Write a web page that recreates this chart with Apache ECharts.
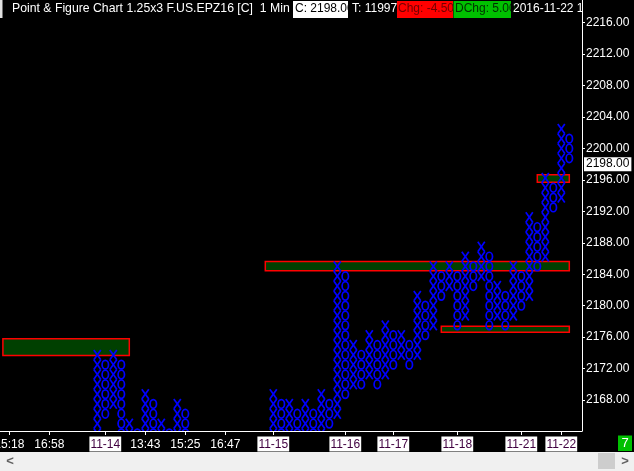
<!DOCTYPE html>
<html><head><meta charset="utf-8">
<script src="https://cdn.jsdelivr.net/npm/echarts@6/dist/echarts.min.js"></script>
<style>html,body{margin:0;padding:0;background:#000;}#c{width:634px;height:471px;}</style>
</head><body><div id="c"></div>
<script>
// ---- Point & Figure data (box size 1.25, reversal 3) ----
const boxSize = 1.25;
const colIndex = [12,13,14,15,16,17,18,19,20,21,22,23,
  34,35,36,37,38,39,40,41,42,43,44,45,46,47,48,49,50,51,52,53,54,55,56,57,58,59,60,61,62,63,64,65,66,67,68,69,70,71];
const colKind = ['X','O','X','O','X','O','X','O','X','O','X','O',
  'X','O','X','O','X','O','X','O','X','O','X','O','X','O','X','O','X','O','X','O','X','O','X','O','X','O','X','O','X','O','X','O','X','O','X','O','X','O'];
const colLow = [2161.25,2166.25,2167.5,2161.25,2162.5,2160,2161.25,2161.25,2162.5,2160,2161.25,2161.25,
  2161.25,2161.25,2162.5,2161.25,2162.5,2161.25,2162.5,2165,2166.25,2168.75,2170,2170,2171.25,2170,2171.25,2172.5,2173.75,2172.5,
  2173.75,2176.25,2177.5,2181.25,2182.5,2177.5,2178.75,2182.5,2183.75,2177.5,2178.75,2177.5,2178.75,2180,2181.25,2185,2186.25,2192.5,2193.75,2198.75];
const colHigh = [2173.75,2172.5,2173.75,2172.5,2165,2163.75,2168.75,2167.5,2165,2163.75,2167.5,2166.25,
  2168.75,2167.5,2167.5,2166.25,2167.5,2166.25,2168.75,2167.5,2185,2183.75,2175,2173.75,2176.25,2175,2177.5,2176.25,2176.25,2175,
  2181.25,2180,2185,2183.75,2185,2183.75,2186.25,2185,2187.5,2186.25,2182.5,2181.25,2185,2183.75,2191.25,2190,2196.25,2195,2202.5,2201.25];

// ---- Zones ----
const zoneStart = [0.2, 33, 55, 67];
const zoneEnd = [16, 71, 71, 71];
const zoneLow = [2173.65, 2184.45, 2176.62, 2195.7];
const zoneHigh = [2175.8, 2185.62, 2177.38, 2196.65];

// ---- Axes ----
const priceTicks = [2168,2172,2176,2180,2184,2188,2192,2196,2200,2204,2208,2212,2216];
const timeTickCols = [1,6,13,18,23,28,34,43,49,57,65,70];
const timeTickLabels = ['15:18','16:58','11-14','13:43','15:25','16:47','11-15','11-16','11-17','11-18','11-21','11-22'];
const lastPrice = 2198.00;

const FONT = 'Liberation Sans';
const BLUE = '#0000ff';

function renderColumn(params, api) {
  const i = params.dataIndex;
  const col = api.value(0), low = api.value(1), high = api.value(2);
  const kind = colKind[i];
  const boxH = api.size([0, boxSize])[1];
  const hw = 3.5;
  const n = Math.round((high - low) / boxSize);
  const children = [];
  for (let k = 0; k <= n; k++) {
    const c = api.coord([col, low + k * boxSize]);
    const top = c[1] - boxH / 2, bot = c[1] + boxH / 2;
    if (kind === 'X') {
      children.push({type:'line', shape:{x1:c[0]-hw, y1:top, x2:c[0]+hw, y2:bot}, style:{stroke:BLUE, lineWidth:1.7}});
      children.push({type:'line', shape:{x1:c[0]+hw, y1:top, x2:c[0]-hw, y2:bot}, style:{stroke:BLUE, lineWidth:1.7}});
    } else {
      children.push({type:'ellipse', shape:{cx:c[0], cy:c[1], rx:3.2, ry:boxH/2 - 0.6}, style:{fill:null, stroke:BLUE, lineWidth:1.7}});
    }
  }
  return {type:'group', children};
}

function renderZone(params, api) {
  const p0 = api.coord([api.value(0), api.value(3)]);
  const p1 = api.coord([api.value(1), api.value(2)]);
  return {type:'rect', shape:{x:p0[0], y:p0[1], width:p1[0]-p0[0], height:p1[1]-p0[1]},
    style:{fill:'#004000', stroke:'#ff0000', lineWidth:1.5}};
}

const chart = echarts.init(document.getElementById('c'), null, {renderer:'canvas'});
const yMin = 2164.056, yMax = 2218.888;
const tf = '12px ' + FONT;
chart.setOption({
  backgroundColor:'#000',
  animation:false,
  grid:{left:0, right:52, top:0, bottom:40, containLabel:false, outerBoundsMode:'none'},
  xAxis:{type:'value', min:-0.1625, max:72.5875, position:'bottom',
    axisLine:{onZero:false, lineStyle:{color:'#fff', width:1}},
    axisTick:{customValues:timeTickCols, length:4, lineStyle:{color:'#fff'}},
    splitLine:{show:false},
    axisLabel:{customValues:timeTickCols, margin:7, fontFamily:FONT, fontSize:12, hideOverlap:false,
      formatter:function(v){const s = timeTickLabels[timeTickCols.indexOf(v)]; return s.indexOf('-')>=0 ? '{d|'+s+'}' : '{t|'+s+'}';},
      rich:{d:{backgroundColor:'#fff', color:'#400040', padding:[2,1,1,1], fontFamily:FONT, fontSize:12, lineHeight:12},
            t:{color:'#fff', padding:[2,0,1,0], fontFamily:FONT, fontSize:12, lineHeight:12}}}},
  yAxis:[{type:'value', position:'right', min:yMin, max:yMax,
    axisLine:{show:true, onZero:false, lineStyle:{color:'#fff', width:1}},
    axisTick:{show:true, customValues:priceTicks, length:3, lineStyle:{color:'#fff'}},
    splitLine:{show:false},
    axisLabel:{customValues:priceTicks, margin:4, color:'#fff', fontFamily:FONT, fontSize:12, formatter:v=>v.toFixed(2)}},
   {type:'value', position:'right', min:yMin, max:yMax,
    axisLine:{show:false, onZero:false}, axisTick:{show:false}, splitLine:{show:false},
    axisLabel:{customValues:[lastPrice], margin:2, color:'#000', backgroundColor:'#fff', padding:[1,2,1,2],
      fontFamily:FONT, fontSize:12, formatter:v=>v.toFixed(2)}}],
  series:[
    {type:'custom', renderItem:renderZone, clip:true, encode:{x:[0,1], y:[2,3]},
     data:zoneStart.map((s,i)=>[s, zoneEnd[i], zoneLow[i], zoneHigh[i]])},
    {type:'custom', renderItem:renderColumn, clip:true, encode:{x:0, y:[1,2]},
     data:colIndex.map((c,i)=>[c, colLow[i], colHigh[i]])}
  ],
  graphic:[
    {type:'rect', shape:{x:0, y:0, width:2.5, height:18}, style:{fill:'#e0e0e0'}},
    {type:'text', x:12, y:9, style:{text:'Point & Figure Chart 1.25x3 F.US.EPZ16 [C]  1 Min   #3', fill:'#fff', font:'12.25px '+FONT, verticalAlign:'middle'}},
    {type:'rect', shape:{x:293, y:1, width:55, height:17}, style:{fill:'#fff'}},
    {type:'text', x:295, y:9, style:{text:'C: 2198.00', fill:'#000', font:tf, verticalAlign:'middle'}},
    {type:'rect', shape:{x:348, y:0, width:4, height:19}, style:{fill:'#000'}},
    {type:'text', x:352, y:9, style:{text:'T: 11997', fill:'#fff', font:tf, verticalAlign:'middle'}},
    {type:'rect', shape:{x:397, y:1, width:56, height:17}, style:{fill:'#ff0000'}},
    {type:'text', x:398, y:9, style:{text:'Chg: -4.50', fill:'#700000', font:tf, verticalAlign:'middle'}},
    {type:'rect', shape:{x:453.5, y:1, width:57.5, height:17}, style:{fill:'#00c000'}},
    {type:'text', x:455, y:9, style:{text:'DChg: 5.00', fill:'#003000', font:tf, verticalAlign:'middle'}},
    {type:'rect', shape:{x:511, y:0, width:2, height:19}, style:{fill:'#000'}},
    {type:'text', x:513, y:9, style:{text:'2016-11-22 1', fill:'#fff', font:tf, verticalAlign:'middle'}},
    {type:'rect', shape:{x:618, y:435.5, width:14, height:15.5}, style:{fill:'#00c000'}},
    {type:'text', x:625, y:443.5, style:{text:'7', fill:'#fff', font:'13px '+FONT, align:'center', verticalAlign:'middle'}},
    {type:'rect', shape:{x:0, y:452, width:634, height:19}, style:{fill:'#f0f0f0'}},
    {type:'text', x:10, y:461, style:{text:'<', fill:'#606060', font:'bold 13px '+FONT, align:'center', verticalAlign:'middle'}},
    {type:'rect', shape:{x:598, y:453, width:17, height:16}, style:{fill:'#cdcdcd'}},
    {type:'text', x:625, y:461, style:{text:'>', fill:'#606060', font:'bold 13px '+FONT, align:'center', verticalAlign:'middle'}}
  ]
});
</script></body></html>
